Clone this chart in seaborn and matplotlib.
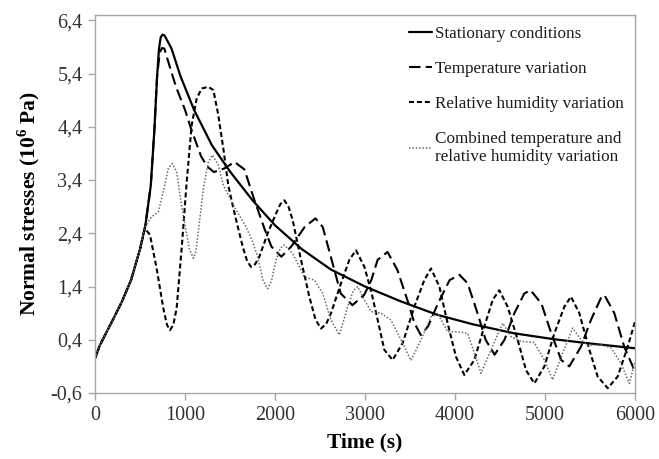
import matplotlib
matplotlib.use("Agg")
import matplotlib.pyplot as plt
import seaborn as sns
from matplotlib.ticker import FuncFormatter

# ---- data ----
t_stat = [0, 50, 100, 200, 300, 400, 500, 560, 620, 660, 690, 710, 730, 750, 770, 800, 850,
          950, 1100, 1300, 1500, 1750, 2000, 2300, 2620, 3000, 3400, 3800, 4200, 4660, 5100, 5500, 6000]
v_stat = [0.05, 0.28, 0.45, 0.78, 1.12, 1.52, 2.1, 2.55, 3.3, 4.35, 5.35, 5.85, 6.08, 6.13, 6.12, 6.03, 5.87,
          5.35, 4.72, 4.05, 3.56, 3.02, 2.55, 2.1, 1.72, 1.4, 1.12, 0.87, 0.69, 0.52, 0.41, 0.33, 0.24]

t_temp = [0, 50, 100, 200, 300, 400, 500, 560, 620, 660, 690, 720, 745, 770, 800, 900, 1000, 1070, 1180,
          1250, 1320, 1440, 1550, 1660, 1770, 1880, 1960, 2070, 2180, 2330, 2450, 2530, 2620, 2730, 2860,
          2990, 3070, 3140, 3250, 3360, 3470, 3550, 3620, 3700, 3810, 3940, 4050, 4140, 4250, 4340, 4440,
          4550, 4660, 4770, 4840, 4960, 5070, 5180, 5270, 5400, 5510, 5620, 5660, 5770, 5880, 6000]
v_temp = [0.05, 0.28, 0.45, 0.78, 1.12, 1.52, 2.1, 2.55, 3.3, 4.35, 5.35, 5.8, 5.88, 5.87, 5.7, 5.15, 4.72, 4.35, 3.84,
          3.65, 3.55, 3.62, 3.74, 3.6, 3.03, 2.5, 2.15, 1.96, 2.15, 2.52, 2.68, 2.52, 1.96, 1.27, 1.05,
          1.24, 1.52, 1.9, 2.05, 1.71, 1.15, 0.71, 0.49, 0.65, 1.08, 1.52, 1.62, 1.46, 0.9, 0.4, 0.12,
          0.4, 0.9, 1.27, 1.33, 1.08, 0.52, 0.02, -0.1, 0.27, 0.77, 1.18, 1.24, 0.9, 0.27, -0.2]

t_rh = [0, 50, 100, 200, 300, 400, 500, 555, 611, 685, 759, 800, 833, 870, 907, 963, 1019, 1074, 1130,
        1185, 1259, 1315, 1370, 1426, 1481, 1540, 1590, 1641, 1690, 1733, 1780, 1826, 1919, 2011, 2060,
        2104, 2150, 2196, 2289, 2381, 2450, 2511, 2570, 2622, 2733, 2826, 2900, 2993, 3070, 3141, 3215,
        3307, 3419, 3548, 3659, 3733, 3826, 3918, 4011, 4103, 4215, 4326, 4419, 4492, 4585, 4696, 4789,
        4881, 4993, 5104, 5215, 5289, 5381, 5493, 5585, 5697, 5808, 5919, 6000]
v_rh = [0.05, 0.28, 0.45, 0.78, 1.12, 1.52, 2.1, 2.49, 2.37, 1.74, 0.99, 0.68, 0.58, 0.68, 0.99, 2.12, 3.37, 4.43, 4.93,
        5.12, 5.15, 5.09, 4.62, 3.99, 3.3, 2.85, 2.5, 2.15, 1.88, 1.77, 1.82, 1.96, 2.4, 2.77, 2.95,
        3.02, 2.9, 2.65, 1.9, 1.21, 0.78, 0.61, 0.7, 0.9, 1.46, 1.9, 2.08, 1.77, 1.3, 0.77, 0.21,
        0.02, 0.34, 1.02, 1.52, 1.74, 1.4, 0.71, 0.08, -0.26, 0.02, 0.65, 1.15, 1.33, 1.02, 0.4, -0.17,
        -0.42, -0.1, 0.52, 1.02, 1.21, 0.9, 0.21, -0.29, -0.51, -0.29, 0.27, 0.74]

t_comb = [0, 50, 100, 200, 300, 400, 500, 555, 630, 703, 759, 815, 859, 907, 956, 1000, 1050, 1093, 1120,
          1148, 1204, 1259, 1304, 1370, 1426, 1481, 1548, 1678, 1750, 1807, 1870, 1919, 1960, 2011, 2060,
          2104, 2196, 2326, 2437, 2530, 2622, 2715, 2807, 2870, 2919, 2993, 3067, 3178, 3289, 3400, 3511,
          3622, 3733, 3807, 3918, 4030, 4141, 4215, 4289, 4400, 4530, 4622, 4733, 4880, 4993, 5085, 5196,
          5307, 5400, 5474, 5630, 5733, 5844, 5937, 6000]
v_comb = [0.05, 0.28, 0.45, 0.78, 1.12, 1.52, 2.1, 2.52, 2.71, 2.8, 3.18, 3.62, 3.71, 3.55, 2.99, 2.55, 2.1, 1.93, 2.05,
          2.43, 3.24, 3.74, 3.87, 3.68, 3.3, 3.12, 2.9, 2.52, 2.25, 1.96, 1.5, 1.36, 1.5, 1.9, 2.12,
          2.18, 2.02, 1.58, 1.52, 1.27, 0.77, 0.49, 1.02, 1.32, 1.4, 1.15, 0.93, 0.9, 0.77, 0.4, 0.01,
          0.4, 0.83, 0.9, 0.55, 0.55, 0.52, 0.15, -0.23, 0.21, 0.71, 0.46, 0.37, 0.35, 0.02, -0.35, 0.15,
          0.62, 0.4, 0.3, 0.3, 0.25, -0.04, -0.42, 0.0]

labels = ["Stationary conditions",
          "Temperature variation",
          "Relative humidity variation",
          "Combined temperature and\nrelative humidity variation"]
x_ticks = [0, 1000, 2000, 3000, 4000, 5000, 6000]
y_ticks = [-0.6, 0.4, 1.4, 2.4, 3.4, 4.4, 5.4, 6.4]

sns.set_style("white")
plt.rcParams['font.family'] = ['Liberation Serif', 'DejaVu Serif']
plt.rcParams['mathtext.fontset'] = 'custom'
plt.rcParams['mathtext.rm'] = 'Liberation Serif'
plt.rcParams['mathtext.bf'] = 'Liberation Serif:bold'

fig = plt.figure(figsize=(6.59, 4.59), dpi=100)
ax = fig.add_axes([95 / 659, 1 - 393 / 459, 540 / 659, 378 / 459])

sns.lineplot(x=t_stat, y=v_stat, ax=ax, color="black", linewidth=1.6, linestyle="-",
             sort=False, estimator=None, label=labels[0])
sns.lineplot(x=t_temp, y=v_temp, ax=ax, color="black", linewidth=1.5, linestyle=(0, (5.5, 2.5)),
             sort=False, estimator=None, label=labels[1])
sns.lineplot(x=t_rh, y=v_rh, ax=ax, color="black", linewidth=1.5, linestyle=(0, (2.4, 1.4)),
             sort=False, estimator=None, label=labels[2])
sns.lineplot(x=t_comb, y=v_comb, ax=ax, color="#6a6a6a", linewidth=1.1, linestyle=(0, (1, 1.2)),
             sort=False, estimator=None, label=labels[3])

ax.set_xlim(0, 6000)
ax.set_ylim(-0.6, 6.5)
ax.set_xticks(x_ticks)
ax.set_yticks(y_ticks)
ax.yaxis.set_major_formatter(FuncFormatter(lambda v, p: f"{v:.1f}".replace(".", ",")))
ax.xaxis.set_major_formatter(FuncFormatter(lambda v, p: f"{int(round(v))}"))

for s in ax.spines.values():
    s.set_visible(True)
    s.set_color("#a6a6a6")
    s.set_linewidth(1.0)
ax.tick_params(axis="both", which="major", direction="out", length=5, width=1.0,
               color="#a6a6a6", labelsize=14.5, labelcolor="#333333", pad=4,
               bottom=True, left=True)

ax.set_xlabel("Time (s)", fontsize=15.5, fontweight="bold", color="black", labelpad=6)
ax.set_ylabel(r"Normal stresses (10$^{\mathbf{6}}$ Pa)", fontsize=15.5, fontweight="bold",
              color="black", labelpad=6)

leg = ax.legend(loc="upper left", bbox_to_anchor=(0.568, 0.988), frameon=False, fontsize=12.3,
                handlelength=1.4, handletextpad=0.12, labelspacing=1.1, borderaxespad=0.0)
for txt in leg.get_texts():
    txt.set_color("#1a1a1a")

fig.savefig("out.png", dpi=100)
